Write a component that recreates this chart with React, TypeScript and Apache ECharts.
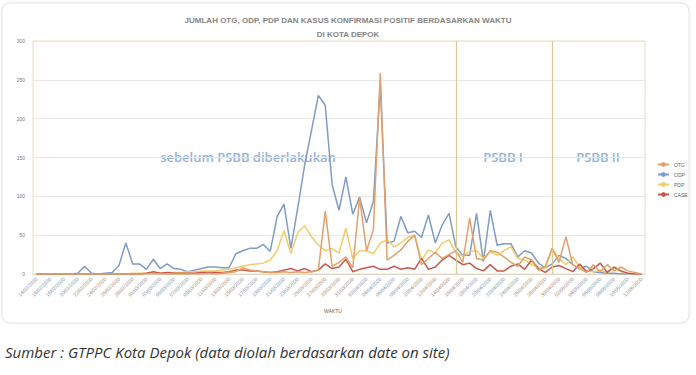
import React, { useEffect, useRef } from "react";
import * as echarts from "echarts";

const dates = [
  "14/02/2020","15/02/2020","16/02/2020","17/02/2020","18/02/2020","19/02/2020","20/02/2020","21/02/2020",
  "22/02/2020","23/02/2020","24/02/2020","25/02/2020","26/02/2020","27/02/2020","28/02/2020","29/02/2020",
  "01/03/2020","02/03/2020","03/03/2020","04/03/2020","05/03/2020","06/03/2020","07/03/2020","08/03/2020",
  "09/03/2020","10/03/2020","11/03/2020","12/03/2020","13/03/2020","14/03/2020","15/03/2020","16/03/2020",
  "17/03/2020","18/03/2020","19/03/2020","20/03/2020","21/03/2020","22/03/2020","23/03/2020","24/03/2020",
  "25/03/2020","26/03/2020","27/03/2020","28/03/2020","29/03/2020","30/03/2020","31/03/2020",
  "01/04/2020","02/04/2020","03/04/2020","04/04/2020","05/04/2020","06/04/2020","07/04/2020","08/04/2020",
  "09/04/2020","10/04/2020","11/04/2020","12/04/2020","13/04/2020","14/04/2020","15/04/2020","16/04/2020",
  "17/04/2020","18/04/2020","19/04/2020","20/04/2020","21/04/2020","22/04/2020","23/04/2020","24/04/2020",
  "25/04/2020","26/04/2020","27/04/2020","28/04/2020","29/04/2020","30/04/2020",
  "01/05/2020","02/05/2020","03/05/2020","04/05/2020","05/05/2020","06/05/2020","07/05/2020","08/05/2020",
  "09/05/2020","10/05/2020","11/05/2020","12/05/2020"
];

const otg = [
  0,0,0,0,0,0,0,0,0,0,0,0,0,0,0,0,0,1,0,0,0,0,0,0,0,1,0,1,
  2,3,8,5,4,3,2,2,3,2,3,2,3,5,81,10,15,22,8,98,30,57,259,
  18,24,31,42,50,12,20,28,20,25,30,15,72,20,18,30,28,22,15,10,22,18,5,10,
  33,15,48,12,7,2,12,3,12,4,9,4,2,0
];

const odp = [
  0,0,0,0,0,0,1,10,1,0,1,2,11,40,13,13,6,19,7,13,7,6,3,5,7,9,9,8,8,
  26,30,33,33,38,29,74,90,33,85,140,185,230,217,115,82,125,77,99,66,93,243,
  40,42,74,53,55,47,76,40,63,78,35,24,24,78,16,82,37,39,39,22,30,27,14,8,
  13,24,20,12,7,10,3,2,1,1,0,0,0,0
];

const pdp = [
  0,0,0,0,0,0,0,0,0,0,0,0,0,0,1,1,1,2,1,2,2,2,3,3,4,4,4,5,6,
  8,10,12,13,14,18,30,56,26,53,62,48,37,30,33,27,59,20,30,30,26,40,
  44,35,40,47,50,18,31,27,40,44,27,23,29,30,20,29,24,30,35,20,18,12,9,7,
  33,20,12,22,9,4,3,5,2,8,3,1,0,0
];

const kasus = [
  0,0,0,0,0,0,0,0,0,0,0,0,0,0,0,0,1,3,1,2,1,1,1,1,2,2,2,2,3,
  5,5,4,4,3,2,3,5,7,4,7,3,5,13,7,9,19,3,6,8,10,6,
  6,10,6,8,6,20,6,9,18,24,18,12,14,7,4,12,4,4,10,13,6,18,7,2,
  9,11,7,3,13,3,7,14,2,9,4,1,0,0
];

const seriesNames = ["OTG", "ODP", "PDP", "CASE"];
const seriesColors = ["#e3a06b", "#7e9cc7", "#f3cc69", "#c8584c"];
const phaseStarts = ["15/04/2020", "29/04/2020"];
const yTicks = { min: 0, max: 300, interval: 50 };

export default function App() {
  const ref = useRef<HTMLDivElement>(null);
  useEffect(() => {
    const chart = echarts.init(ref.current!, null, { renderer: "svg" });
    const values = [otg, odp, pdp, kasus];
    const annFont = "600 13px 'Open Sans', sans-serif";
    chart.setOption({
      animation: false,
      backgroundColor: "#ffffff",
      title: {
        text: "JUMLAH OTG, ODP, PDP DAN KASUS KONFIRMASI POSITIF BERDASARKAN WAKTU\nDI KOTA DEPOK",
        left: "center",
        top: 9,
        textStyle: {
          fontSize: 8,
          fontWeight: "bold",
          color: "#858585",
          lineHeight: 13.5,
          fontFamily: "Liberation Sans, sans-serif",
        },
      },
      legend: {
        orient: "vertical",
        left: 652,
        top: 157,
        itemGap: 5,
        itemWidth: 11,
        itemHeight: 6,
        textStyle: { fontSize: 5, color: "#666", fontFamily: "Liberation Sans" },
        data: seriesNames,
      },
      grid: { left: 33, top: 41, width: 612, height: 233, show: true, borderColor: "#e6dcbc", borderWidth: 1 },
      xAxis: {
        type: "category",
        data: dates,
        boundaryGap: true,
        axisTick: { show: false },
        axisLine: { lineStyle: { color: "#e0d8c0" } },
        axisLabel: { interval: 1, rotate: 45, fontSize: 5, color: "#8a8a8a", margin: 4, fontFamily: "Liberation Sans" },
        splitLine: { show: false },
      },
      yAxis: {
        type: "value",
        min: yTicks.min,
        max: yTicks.max,
        interval: yTicks.interval,
        axisLine: { show: false },
        axisTick: { show: false },
        axisLabel: { fontSize: 5, color: "#777", margin: 8, fontFamily: "Liberation Sans" },
        splitLine: { lineStyle: { color: "#e8e8e8", width: 1 } },
      },
      graphic: [
        {
          type: "rect",
          z: -10,
          shape: { x: 2, y: 3, width: 687, height: 320, r: 8 },
          style: { fill: "#ffffff", stroke: "#e3e3e3", lineWidth: 1, shadowBlur: 3, shadowColor: "rgba(0,0,0,0.08)" },
        },
        {
          type: "text",
          x: 248,
          y: 157,
          style: {
            text: "sebelum PSBB diberlakukan",
            fill: "#93b3d6",
            font: annFont,
            textAlign: "center",
            textVerticalAlign: "middle",
          },
        },
        {
          type: "text",
          x: 503,
          y: 157,
          style: { text: "PSBB I", fill: "#93b3d6", font: annFont, textAlign: "center", textVerticalAlign: "middle" },
        },
        {
          type: "text",
          x: 598,
          y: 157,
          style: { text: "PSBB II", fill: "#93b3d6", font: annFont, textAlign: "center", textVerticalAlign: "middle" },
        },
        {
          type: "text",
          x: 333,
          y: 311,
          style: { text: "WAKTU", fill: "#666666", font: "5px 'Liberation Sans', sans-serif", textAlign: "center", textVerticalAlign: "middle" },
        },
        {
          type: "text",
          x: 5,
          y: 352,
          style: {
            text: "Sumber : GTPPC Kota Depok (data diolah berdasarkan date on site)",
            fill: "#333333",
            font: "italic 15px 'Open Sans', sans-serif",
            textVerticalAlign: "middle",
          },
        },
      ],
      series: seriesNames.map((name, i) => ({
        name,
        type: "line",
        data: values[i],
        symbol: "none",
        showSymbol: false,
        color: seriesColors[i],
        lineStyle: { width: 1.5, color: seriesColors[i] },
        z: i === 0 ? 4 : 3,
        markLine:
          i === 0
            ? {
                silent: true,
                symbol: "none",
                label: { show: false },
                lineStyle: { color: "#dcc98f", type: "solid", width: 1.3 },
                data: phaseStarts.map((d) => ({ xAxis: d })),
              }
            : undefined,
      })),
    });
    return () => chart.dispose();
  }, []);
  return (
    <div
      ref={ref}
      style={{ position: "fixed", left: 0, top: 0, width: 696, height: 375, background: "#ffffff" }}
    />
  );
}
